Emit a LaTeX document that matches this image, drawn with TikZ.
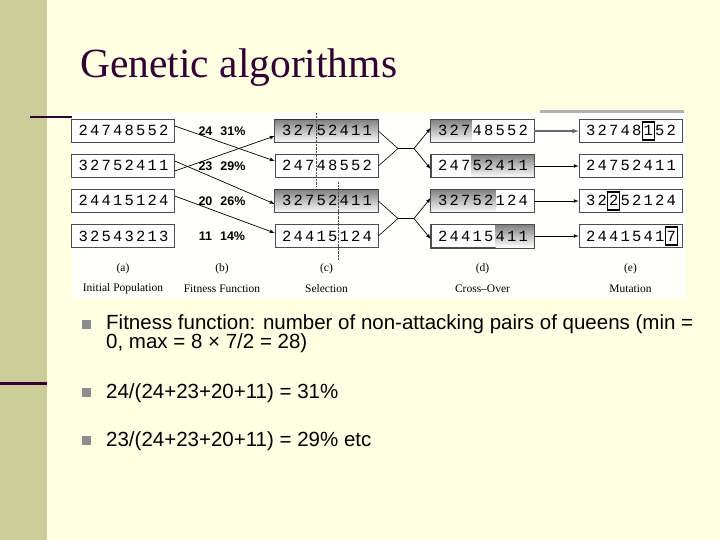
\documentclass[tikz,border=0pt]{standalone}
\usepackage{fontspec}
\setmainfont{Liberation Serif}
\newfontfamily\bodyfont{Liberation Sans}
\newfontfamily\digitfont{Liberation Mono}
\usetikzlibrary{positioning}
\definecolor{slidebg}{HTML}{FFFFE3}
\definecolor{sideband}{HTML}{CCCC99}
\definecolor{titlecol}{HTML}{330033}
\definecolor{shade}{HTML}{C0C0C0}

\begin{document}
\begin{tikzpicture}[x=1pt,y=-1pt
  ,gbox/.style={draw=black!70,fill=white,line width=0.6pt,minimum width=103pt,minimum height=23pt,inner sep=0pt}
  ,digit/.style={font=\digitfont\fontsize{15.5}{15.5}\selectfont,inner sep=0pt,text height=10pt,text depth=0pt}
  ,fitval/.style={font=\bodyfont\bfseries\fontsize{12.5}{12.5}\selectfont,inner sep=0pt}
  ,captxt/.style={font=\fontsize{11.5}{11.5}\selectfont,inner sep=0pt}
  ,arr/.style={line width=0.7pt,-latex}
  ,bullet/.style={font=\bodyfont\fontsize{20.5}{19.5}\selectfont,inner sep=0pt,anchor=north west,align=left}
]
\useasboundingbox (0,0) rectangle (720,540);
\fill[slidebg] (0,0) rectangle (720,540);
\fill[sideband] (0,0) rectangle (47,540);
\fill[titlecol] (30,116) rectangle (72,118);
\fill[titlecol] (0,382) rectangle (47,385);

\node[anchor=west,text=titlecol,font=\fontsize{41.5}{41.5}\selectfont,inner sep=0pt] (title) at (80,68) {Genetic algorithms};

% --- figure panel ---
\fill[white!96!slidebg] (72,113) rectangle (685,298);
\fill[black!30] (540,110) rectangle (684,113);

% --- chromosome boxes ---
\foreach \name/\x/\y in {a1/123/131,a2/123/166,a3/123/201,a4/123/236,
                         c1/326.5/131,c2/326.5/166,c3/326.5/201,c4/326.5/236,
                         d1/482.5/131,d2/482.5/166,d3/482.5/201,d4/482.5/236,
                         e1/630.5/131,e2/630.5/166,e3/630.5/201,e4/630.5/236}
  \node[gbox] (\name) at (\x,\y) {};

% shading
\fill[shade] (c1.south west) rectangle (c1.north east);
\fill[shade] (c3.south west) rectangle (c3.north east);
\fill[shade] (d1.south west) rectangle ([xshift=41pt]d1.north west);
\fill[shade] ([xshift=41pt]d2.south west) rectangle (d2.north east);
\fill[shade] (d3.south west) rectangle ([xshift=65pt]d3.north west);
\fill[shade] ([xshift=65pt]d4.south west) rectangle (d4.north east);
\foreach \name in {c1,c3,d1,d2,d3,d4}
  \draw[black!70,line width=0.6pt] (\name.south west) rectangle (\name.north east);
\draw[line width=1.2pt,black!80] (c1.north west) -- (c1.north east);
\draw[line width=1.2pt,black!80] (c3.north west) -- (c3.north east);

% dashed cut lines
\draw[densely dotted,black!70] (316,113) -- (316,186);
\draw[densely dotted,black!70] (338,182) -- (338,260);

% digits
\foreach \name/\digits in {a1/{2,4,7,4,8,5,5,2},a2/{3,2,7,5,2,4,1,1},a3/{2,4,4,1,5,1,2,4},a4/{3,2,5,4,3,2,1,3},
                           c1/{3,2,7,5,2,4,1,1},c2/{2,4,7,4,8,5,5,2},c3/{3,2,7,5,2,4,1,1},c4/{2,4,4,1,5,1,2,4},
                           d1/{3,2,7,4,8,5,5,2},d2/{2,4,7,5,2,4,1,1},d3/{3,2,7,5,2,1,2,4},d4/{2,4,4,1,5,4,1,1},
                           e1/{3,2,7,4,8,1,5,2},e2/{2,4,7,5,2,4,1,1},e3/{3,2,2,5,2,1,2,4},e4/{2,4,4,1,5,4,1,7}}
  \foreach \d [count=\i] in \digits
    \node[digit] at ([xshift=\i*11.5pt+0.5pt]\name.west) {\d};

% mutated genes
\foreach \name/\i in {e1/6,e3/3,e4/8}
  \draw[line width=1.4pt] ([xshift=\i*11.5pt-5.5pt,yshift=-9pt]\name.west) rectangle ([xshift=\i*11.5pt+6.5pt,yshift=9pt]\name.west);

% fitness values
\node[fitval] (f1) at (222,131) {24\hspace{8pt}31\%};
\node[fitval] (f2) at (222,166) {23\hspace{8pt}29\%};
\node[fitval] (f3) at (222,201) {20\hspace{8pt}26\%};
\node[fitval] (f4) at (222,236) {11\hspace{8pt}14\%};

% selection
\draw[arr] ([yshift=5pt]a1.east) -- ([yshift=5pt]c2.west);
\draw[arr] ([yshift=-5pt]a2.east) -- ([yshift=-5pt]c1.west);
\draw[arr] ([yshift=5pt]a2.east) -- ([yshift=-3pt]c3.west);
\draw[arr] ([yshift=5pt]a3.east) -- ([yshift=3pt]c4.west);

% cross-over
\coordinate (x1) at (398,148.5);
\coordinate (x2) at (414,148.5);
\coordinate (x3) at (398,218.5);
\coordinate (x4) at (414,218.5);
\draw[line width=0.6pt] (c1.east) -- (x1) -- (c2.east);
\draw[line width=0.6pt] (c3.east) -- (x3) -- (c4.east);
\draw[line width=0.6pt] (x1) -- (x2);
\draw[line width=0.6pt] (x3) -- (x4);
\draw[arr] (x2) -- ([yshift=3pt]d1.west);
\draw[arr] (x2) -- ([yshift=-3pt]d2.west);
\draw[arr] (x4) -- ([yshift=3pt]d3.west);
\draw[arr] (x4) -- ([yshift=-3pt]d4.west);

% mutation
\draw[arr,line width=1.2pt,black!60] (d1) -- (e1);
\foreach \r in {2,3,4}
  \draw[arr] (d\r) -- (e\r);

% captions
\foreach \col/\x/\lbl in {a/123/Initial Population,b/222/Fitness Function,c/326.5/Selection,d/482.5/Cross--Over,e/630.5/Mutation}{
  \node[captxt] (cl\col) at (\x,269) {(\col)};
  \node[captxt] (cn\col) at (\x,289) {\lbl};
}

% --- bullets ---
\foreach \y in {320,388,436}
  \fill[black!45] (82,\y) rectangle (91,\y+9);
\node[bullet] (b1) at (106,314) {Fitness function: number of non-attacking pairs of queens (min =\\0, max = 8 × 7/2 = 28)};
\node[bullet] (b2) at (106,383) {24/(24+23+20+11) = 31\%};
\node[bullet] (b3) at (106,431) {23/(24+23+20+11) = 29\% etc};

\end{tikzpicture}
\end{document}
